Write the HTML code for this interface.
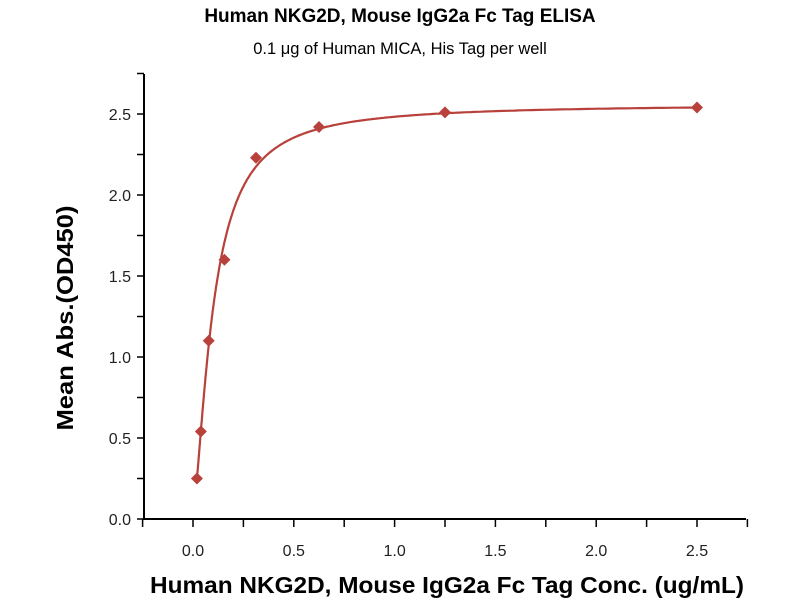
<!DOCTYPE html>
<html><head><meta charset="utf-8"><style>body{margin:0;background:#fff}svg{display:block}</style></head>
<body>
<svg id="s" width="800" height="600" xmlns="http://www.w3.org/2000/svg" font-family="Liberation Sans, sans-serif">
<text x="400" y="22" text-anchor="middle" font-size="19" font-weight="bold">Human NKG2D, Mouse IgG2a Fc Tag ELISA</text>
<text x="400" y="54" text-anchor="middle" font-size="16.5">0.1 μg of Human MICA, His Tag per well</text>
<g stroke="#000" stroke-width="2" fill="none">
<line x1="144" y1="74" x2="144" y2="520"/>
<line x1="143" y1="519" x2="746" y2="519"/>
</g>
<g id="ticks" stroke="#000" stroke-width="1.5"></g>
<g id="labels" font-size="16" fill="#222"></g>
<path id="curve" fill="none" stroke="#b8413b" stroke-width="2.2"/>
<g id="pts" fill="#b8413b"></g>
<text x="447" y="593" text-anchor="middle" font-size="23.5" font-weight="bold" textLength="594" lengthAdjust="spacingAndGlyphs">Human NKG2D, Mouse IgG2a Fc Tag Conc. (ug/mL)</text>
<text transform="translate(73,318) rotate(-90)" text-anchor="middle" font-size="23.5" font-weight="bold" textLength="225" lengthAdjust="spacingAndGlyphs">Mean Abs.(OD450)</text>
</svg>
<script>
var X=function(v){return 193+v*201.6},Y=function(v){return 519-v*162};
var t=document.getElementById('ticks'),l=document.getElementById('labels'),ns='http://www.w3.org/2000/svg';
function el(p,n,a,txt){var e=document.createElementNS(ns,n);for(var k in a)e.setAttribute(k,a[k]);if(txt)e.textContent=txt;p.appendChild(e);}
for(var i=0;i<=5;i++){var v=i*0.5,x=X(v);el(t,'line',{x1:x,y1:519,x2:x,y2:527});el(l,'text',{x:x,y:556,'text-anchor':'middle'},v.toFixed(1));
if(i<5)el(t,'line',{x1:X(v+0.25),y1:519,x2:X(v+0.25),y2:527});
var y=Y(v);el(t,'line',{x1:137,y1:y,x2:144,y2:y});el(l,'text',{x:131,y:y+6,'text-anchor':'end'},v.toFixed(1));
el(t,'line',{x1:137,y1:Y(v+0.25),x2:144,y2:Y(v+0.25)});}
el(t,'line',{x1:X(-0.25),y1:519,x2:X(-0.25),y2:527});el(t,'line',{x1:X(2.75),y1:519,x2:X(2.75),y2:527});
function f(x){var r=Math.pow(x/0.1,1.5);return 2.56*r/(1+r)+0.05*(1-r/(1+r));}
var d='';for(var k=0;k<=400;k++){var x=0.0195*Math.pow(2.5/0.0195,k/400);d+=(k?'L':'M')+X(x).toFixed(1)+' '+Y(f(x)).toFixed(1);}
document.getElementById('curve').setAttribute('d',d);
var P=[[0.0195,0.25],[0.039,0.54],[0.078,1.1],[0.156,1.6],[0.3125,2.23],[0.625,2.42],[1.25,2.51],[2.5,2.54]],g=document.getElementById('pts');
P.forEach(function(p){var x=X(p[0]),y=Y(p[1]);el(g,'polygon',{points:(x-6)+','+y+' '+x+','+(y-6)+' '+(x+6)+','+y+' '+x+','+(y+6)});});
</script>
</body></html>
